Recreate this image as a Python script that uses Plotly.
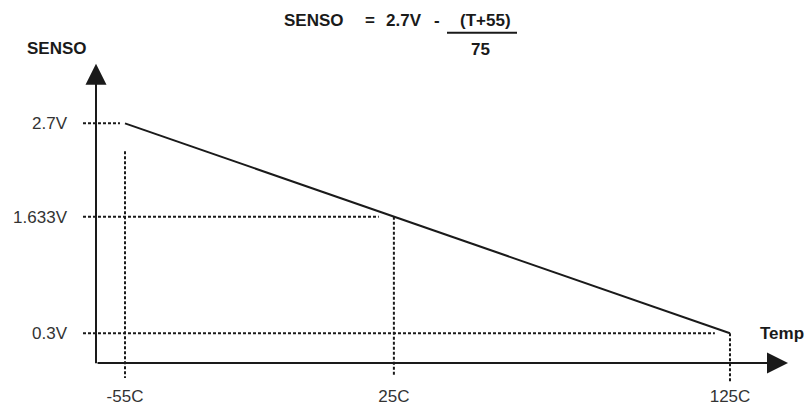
import plotly.graph_objects as go

# temperature (C) and sensor voltage (V) at the three marked points
TEMPS = [-55, 25, 125]
VOLTS = [2.7, 1.633, 0.3]
TEMP_LABELS = ["-55C", "25C", "125C"]
VOLT_LABELS = ["2.7V", "1.633V", "0.3V"]

# the straight line only joins the two end points
LINE_T = [TEMPS[0], TEMPS[-1]]
LINE_V = [VOLTS[0], VOLTS[-1]]

FONT = "Arial, Liberation Sans, sans-serif"
INK = "#1a1a1a"
GUIDE = dict(color=INK, width=2, dash="3px,2px")

# guide extents (styling, in axis units)
H_START = -67.5
H_GAP = [1.5, 4.5, 4.5]
V_GAP = [0.32, 0.0, 0.0]
V_END = [-0.21, -0.19, -0.26]

# plot area in pixels: left 72, top 0, width 736, height 386
def px(x):
    return (x - 72) / 736


def py(y):
    return (386 - y) / 386


fig = go.Figure()

for t, v, hg, vg, ve in zip(TEMPS, VOLTS, H_GAP, V_GAP, V_END):
    fig.add_trace(go.Scatter(
        x=[H_START, t - hg], y=[v, v], mode="lines",
        line=GUIDE, showlegend=False, hoverinfo="skip",
    ))
    fig.add_trace(go.Scatter(
        x=[t, t], y=[v - vg, ve], mode="lines",
        line=GUIDE, showlegend=False, hoverinfo="skip", cliponaxis=False,
    ))

fig.add_trace(go.Scatter(
    x=LINE_T, y=LINE_V, mode="lines",
    line=dict(color=INK, width=2), showlegend=False,
))

# axes with arrow heads
fig.add_annotation(x=px(96), y=py(64), xref="paper", yref="paper", text="",
                   showarrow=True, ax=0, ay=301, arrowhead=2, arrowsize=2.1,
                   arrowwidth=2, arrowcolor=INK)
fig.add_annotation(x=px(788), y=py(365), xref="paper", yref="paper", text="",
                   showarrow=True, ax=-692, ay=0, arrowhead=2, arrowsize=2.1,
                   arrowwidth=2, arrowcolor=INK)

bold = dict(family=FONT, size=17, color=INK, weight="bold")
labels = [("SENSO", 57, 49), ("Temp", 782, 335),
          # formula at the top
          ("SENSO", 314, 21), ("=", 370, 21), ("2.7V", 404, 21),
          ("-", 437, 21), ("(T+55)", 485, 21), ("75", 480, 50)]
for txt, cx, cy in labels:
    fig.add_annotation(text=txt, x=px(cx), y=py(cy), xanchor="center", yanchor="middle",
                       xref="paper", yref="paper", showarrow=False, font=bold)

fig.update_layout(
    width=808, height=406,
    margin=dict(l=72, r=0, t=0, b=20),
    plot_bgcolor="white", paper_bgcolor="white",
    font=dict(family=FONT, size=17, color="#333"),
    shapes=[dict(type="line", xref="paper", yref="paper",
                 x0=px(447), x1=px(517), y0=py(33), y1=py(33),
                 line=dict(color=INK, width=2))],
)
fig.update_xaxes(range=[-70.77, 148.21], tickvals=TEMPS, ticktext=TEMP_LABELS,
                 showgrid=False, zeroline=False, showline=False, ticks="")
fig.update_yaxes(range=[-0.28, 4.11], tickvals=VOLTS, ticktext=VOLT_LABELS,
                 showgrid=False, zeroline=False, showline=False, ticks="",
                 ticklabelstandoff=4)

fig.write_html("out.html", config={"displayModeBar": False},
               post_script="document.body.style.margin='0';")
